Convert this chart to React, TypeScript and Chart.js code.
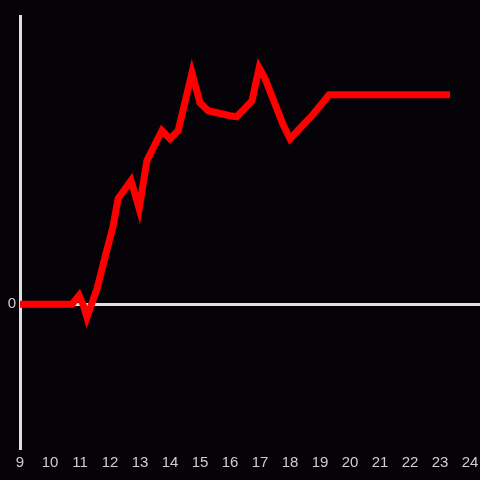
import React, { useEffect, useRef } from "react";
import { Chart, registerables } from "chart.js";

Chart.register(...registerables);

const hours: number[] = [9, 10.73, 10.97, 11.1, 11.23, 11.57, 11.9, 12.1, 12.27, 12.7, 12.97, 13.23, 13.73, 14.0, 14.27, 14.73, 15.0, 15.27, 16.0, 16.23, 16.73, 16.97, 17.17, 17.77, 18.0, 18.73, 19.3, 23.33];
const values: number[] = [0, 0, 9, 0, -13, 16, 55, 78, 106, 124, 96, 144, 174, 166, 174, 232, 202, 194, 189, 188, 204, 237, 226, 180, 166, 189, 210, 210];
const xTickValues: number[] = [9, 10, 11, 12, 13, 14, 15, 16, 17, 18, 19, 20, 21, 22, 23, 24];

export default function App() {
  const ref = useRef<HTMLCanvasElement | null>(null);
  useEffect(() => {
    if (!ref.current) return;
    const chart = new Chart(ref.current, {
      type: "line",
      data: {
        datasets: [
          {
            data: hours.map((h, i) => ({ x: h, y: values[i] })),
            borderColor: "#ff0000",
            borderWidth: 7,
            pointRadius: 0,
            tension: 0,
            fill: false,
          },
        ],
      },
      options: {
        animation: false,
        responsive: false,
        layout: { padding: { top: 16, left: 0, right: 0, bottom: 0 } },
        plugins: { legend: { display: false }, tooltip: { enabled: false } },
        scales: {
          x: {
            type: "linear",
            min: 9,
            max: 24.33,
            afterBuildTicks: (s: any) => {
              s.ticks = xTickValues.map((v) => ({ value: v }));
            },
            afterFit: (s: any) => {
              s.height = 32;
              s.paddingRight = 0;
              s.paddingLeft = 0;
            },
            grid: { display: false, drawTicks: false },
            border: { display: false },
            ticks: {
              color: "#cfcfcf",
              font: { family: "Liberation Sans", size: 15 },
              padding: 6,
              maxRotation: 0,
              autoSkip: false,
              callback: (v: any) => String(v),
            },
          },
          y: {
            type: "linear",
            min: -144,
            max: 289,
            afterBuildTicks: (s: any) => {
              s.ticks = [{ value: 0 }];
            },
            afterFit: (s: any) => {
              s.width = 20;
              s.paddingTop = 0;
              s.paddingBottom = 0;
            },
            grid: { color: "#e0e0e0", lineWidth: 3, drawTicks: false },
            border: { display: true, color: "#e0e0e0", width: 3 },
            ticks: {
              color: "#cfcfcf",
              font: { family: "Liberation Sans", size: 15 },
              padding: 4,
              callback: (v: any) => String(v),
            },
          },
        },
      },
    });
    return () => chart.destroy();
  }, []);
  return (
    <div style={{ position: "fixed", left: 0, top: 0, width: 480, height: 480, background: "#050307" }}>
      <canvas ref={ref} width={480} height={480} style={{ display: "block" }} />
    </div>
  );
}
